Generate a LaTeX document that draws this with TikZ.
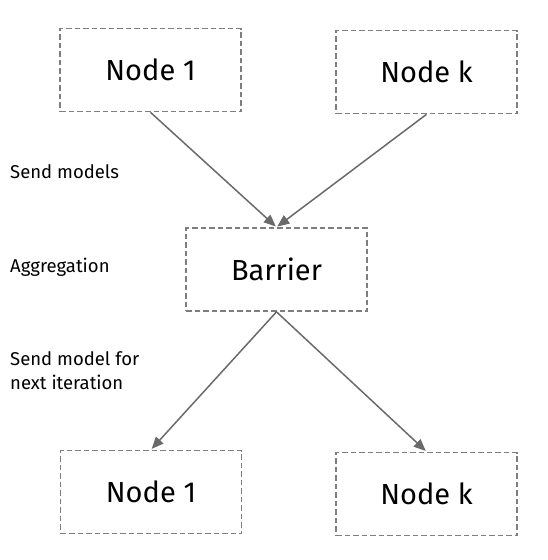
\documentclass[tikz,border=0pt]{standalone}
\usepackage{fontspec}
\setmainfont{Fira Sans}
\usetikzlibrary{arrows.meta}
\definecolor{boxgray}{HTML}{7E7E7E}
\definecolor{arrgray}{HTML}{6A6A6A}
\begin{document}
\begin{tikzpicture}[x=1pt,y=-1pt,
  box/.style={draw=boxgray, line width=1.7pt, dash pattern=on 5.5pt off 3pt,
    minimum width=181pt, minimum height=83pt, inner sep=0pt,
    font=\fontsize{29}{34}\selectfont},
  conn/.style={draw=arrgray, line width=1.5pt,
    -{Triangle[length=12pt,width=10pt]}, shorten >=1pt},
  lab/.style={anchor=base west, align=left, inner sep=0pt,
    font=\fontsize{18.5}{24}\selectfont}]
\useasboundingbox (0,0) rectangle (548,560);
\node[box] (n1) at (150.5,70) {Node 1};
\node[box] (nk) at (426.5,72) {Node k};
\node[box] (bar) at (276.5,269.5) {Barrier};
\node[box] (m1) at (151,492) {Node 1};
\node[box] (mk) at (426.5,494) {Node k};
\draw[conn] (n1.south) -- (bar.north);
\draw[conn] (nk.south) -- (bar.north);
\draw[conn] (bar.south) -- (m1.north);
\draw[conn] (bar.south) -- (mk.north);
\node[lab] (l1) at (10,178) {Send models};
\node[lab] (l2) at (10,272) {Aggregation};
\node[lab] (l3) at (10,389) {Send model for\\next iteration};
\end{tikzpicture}
\end{document}
